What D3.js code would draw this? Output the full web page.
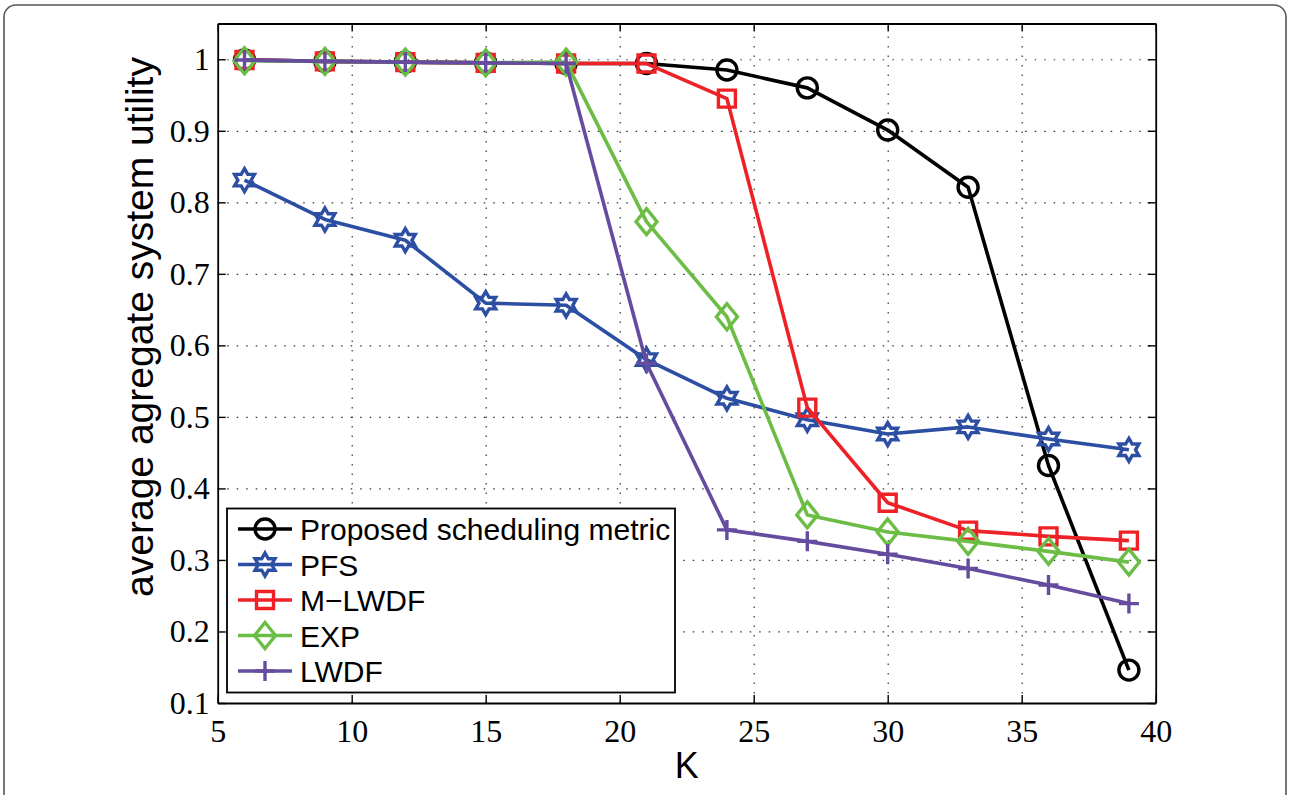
<!DOCTYPE html>
<html>
<head>
<meta charset="utf-8">
<script src="https://cdn.jsdelivr.net/npm/d3@7"></script>
<style>
  html, body { margin: 0; padding: 0; background: #fff; }
  svg { display: block; }
</style>
</head>
<body>
<svg id="chart" width="1290" height="795"></svg>
<script>
// Number of users K and the utility reached by each scheduler
const K = [6, 9, 12, 15, 18, 21, 24, 27, 30, 33, 36, 39];
const proposed = [0.999, 0.997, 0.996, 0.995, 0.994, 0.994, 0.985, 0.960, 0.901, 0.821, 0.432, 0.146];
const pfs      = [0.831, 0.776, 0.747, 0.659, 0.656, 0.580, 0.526, 0.496, 0.476, 0.486, 0.469, 0.454];
const mlwdf    = [0.999, 0.997, 0.996, 0.995, 0.994, 0.994, 0.945, 0.513, 0.380, 0.341, 0.333, 0.327];
const expRule  = [0.998, 0.997, 0.996, 0.995, 0.996, 0.773, 0.640, 0.363, 0.339, 0.326, 0.312, 0.297];
const lwdf     = [0.999, 0.997, 0.996, 0.995, 0.994, 0.575, 0.342, 0.326, 0.308, 0.288, 0.265, 0.239];

const seriesNames = ["Proposed scheduling metric", "PFS", "M\u2212LWDF", "EXP", "LWDF"];
const seriesValues = [proposed, pfs, mlwdf, expRule, lwdf];
const seriesColors = ["#000000", "#2c4ea3", "#ee2226", "#6bbd45", "#654c9e"];
const seriesMarkers = ["circle", "hexagram", "square", "diamond", "plus"];

const xTicks = [5, 10, 15, 20, 25, 30, 35, 40];
const yTicks = [0.1, 0.2, 0.3, 0.4, 0.5, 0.6, 0.7, 0.8, 0.9, 1];
const yTickLabels = ["0.1", "0.2", "0.3", "0.4", "0.5", "0.6", "0.7", "0.8", "0.9", "1"];

const svg = d3.select("#chart");

// outer rounded frame
svg.append("rect")
  .attr("x", 4).attr("y", 5).attr("width", 1282).attr("height", 840)
  .attr("rx", 12).attr("ry", 12)
  .attr("fill", "none").attr("stroke", "#555").attr("stroke-width", 1.6);

const plotL = 217.7, plotR = 1155.7, plotT = 23.5, plotB = 703;
const x = d3.scaleLinear().domain([5, 40]).range([plotL, plotR]);
const y = d3.scaleLinear().domain([0.1, 1.05]).range([plotB, plotT]);
const W = plotR - plotL, H = plotB - plotT;

// dotted grid
const gridStyle = g => {
  g.select(".domain").remove();
  g.selectAll(".tick text").remove();
  g.selectAll(".tick line")
    .attr("stroke", "#333").attr("stroke-width", 1.2)
    .attr("stroke-dasharray", "1.5,8");
};
svg.append("g")
  .attr("transform", `translate(0,${plotB})`)
  .call(d3.axisBottom(x).tickValues(xTicks.slice(1, -1)).tickSize(-H))
  .call(gridStyle);
svg.append("g")
  .attr("transform", `translate(${plotL},0)`)
  .call(d3.axisLeft(y).tickValues(yTicks.slice(1)).tickSize(-W))
  .call(gridStyle);

// marker shapes
function markerPath(type) {
  const p = d3.path();
  if (type === "circle") {
    p.moveTo(10, 0); p.arc(0, 0, 10, 0, 2 * Math.PI);
  } else if (type === "square") {
    p.rect(-8.5, -8.5, 17, 17);
  } else if (type === "diamond") {
    p.moveTo(0, -13); p.lineTo(10.5, 0); p.lineTo(0, 13); p.lineTo(-10.5, 0); p.closePath();
  } else if (type === "plus") {
    p.moveTo(-10, 0); p.lineTo(10, 0); p.moveTo(0, -10); p.lineTo(0, 10);
  } else if (type === "hexagram") {
    const R = 11.5, r = R / Math.sqrt(3);
    for (let i = 0; i < 12; i++) {
      const a = -Math.PI / 2 + i * Math.PI / 6;
      const rad = i % 2 === 0 ? R : r;
      const px = rad * Math.cos(a), py = rad * Math.sin(a);
      if (i === 0) p.moveTo(px, py); else p.lineTo(px, py);
    }
    p.closePath();
  }
  return p.toString();
}

const line = d3.line().x(d => x(d[0])).y(d => y(d[1]));

seriesValues.forEach((vals, i) => {
  const pts = K.map((k, j) => [k, vals[j]]);
  const g = svg.append("g");
  g.append("path")
    .attr("d", line(pts))
    .attr("fill", "none")
    .attr("stroke", seriesColors[i])
    .attr("stroke-width", 3.6)
    .attr("stroke-linejoin", "round");
  g.selectAll("path.mk").data(pts).enter().append("path")
    .attr("class", "mk")
    .attr("d", markerPath(seriesMarkers[i]))
    .attr("transform", d => `translate(${x(d[0])},${y(d[1])})`)
    .attr("fill", "none")
    .attr("stroke", seriesColors[i])
    .attr("stroke-width", 3.4);
});

// axes box with inward ticks
const axisStyle = g => {
  g.attr("font-family", null).attr("font-size", null);
  g.select(".domain").attr("stroke", "#000").attr("stroke-width", 1.8);
  g.selectAll(".tick line").attr("stroke", "#000").attr("stroke-width", 1.4);
  g.selectAll(".tick text")
    .attr("fill", "#000")
    .attr("font-family", "'Liberation Serif', 'Times New Roman', serif")
    .attr("font-size", 32);
};
svg.append("g")
  .attr("transform", `translate(0,${plotB})`)
  .call(d3.axisBottom(x).tickValues(xTicks).tickSizeInner(-8).tickSizeOuter(0).tickPadding(16))
  .call(axisStyle);
svg.append("g")
  .attr("transform", `translate(0,${plotT})`)
  .call(d3.axisTop(x).tickValues(xTicks).tickSizeInner(-8).tickSizeOuter(0).tickFormat(""))
  .call(axisStyle);
svg.append("g")
  .attr("transform", `translate(${plotL},0)`)
  .call(d3.axisLeft(y).tickValues(yTicks).tickSizeInner(-8).tickSizeOuter(0).tickPadding(8)
    .tickFormat((d, i) => yTickLabels[i]))
  .call(axisStyle);
svg.append("g")
  .attr("transform", `translate(${plotR},0)`)
  .call(d3.axisRight(y).tickValues(yTicks).tickSizeInner(-8).tickSizeOuter(0).tickFormat(""))
  .call(axisStyle);

// axis titles
svg.append("text")
  .attr("x", (plotL + plotR) / 2).attr("y", 778)
  .attr("text-anchor", "middle")
  .attr("font-family", "'Liberation Sans', Arial, sans-serif")
  .attr("font-size", 36)
  .text("K");
svg.append("text")
  .attr("transform", "translate(153,327) rotate(-90)")
  .attr("text-anchor", "middle")
  .attr("font-family", "'Liberation Sans', Arial, sans-serif")
  .attr("font-size", 39)
  .text("average agregate system utility");

// legend
const lg = svg.append("g");
lg.append("rect")
  .attr("x", 227).attr("y", 508.5).attr("width", 448).attr("height", 184)
  .attr("fill", "#fff").attr("stroke", "#000").attr("stroke-width", 1.8);
seriesNames.forEach((name, i) => {
  const cy = 529 + i * 35.5;
  lg.append("line")
    .attr("x1", 238).attr("x2", 292).attr("y1", cy).attr("y2", cy)
    .attr("stroke", seriesColors[i]).attr("stroke-width", 3.6);
  lg.append("path")
    .attr("d", markerPath(seriesMarkers[i]))
    .attr("transform", `translate(265,${cy})`)
    .attr("fill", "none").attr("stroke", seriesColors[i]).attr("stroke-width", 3.4);
  lg.append("text")
    .attr("x", 300).attr("y", cy + 11)
    .attr("font-family", "'Liberation Sans', Arial, sans-serif")
    .attr("font-size", 30)
    .text(name);
});
</script>
</body>
</html>
